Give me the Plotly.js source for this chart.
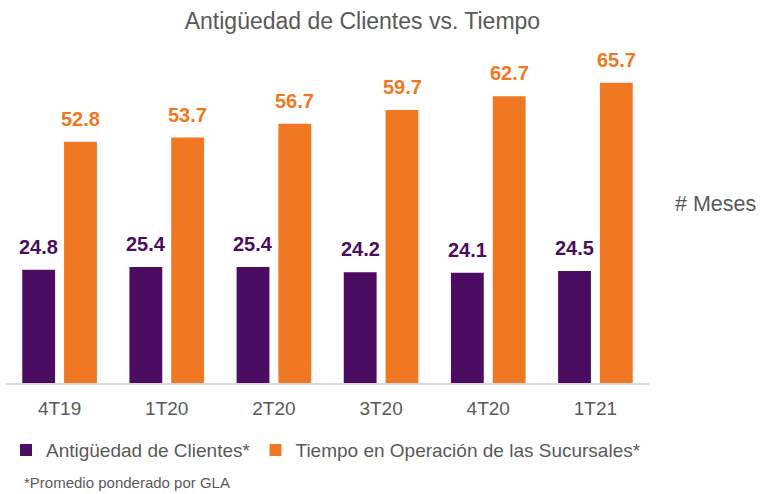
<!DOCTYPE html>
<html>
<head>
<meta charset="utf-8">
<script src="https://cdn.plot.ly/plotly-3.0.1.min.js"></script>
<style>html,body{margin:0;padding:0;background:#fff;}#chart{width:763px;height:494px;}</style>
</head>
<body>
<div id="chart"></div>
<script>
var categories = ["4T19", "1T20", "2T20", "3T20", "4T20", "1T21"];
var antiguedad = [24.8, 25.4, 25.4, 24.2, 24.1, 24.5];
var tiempoOperacion = [52.8, 53.7, 56.7, 59.7, 62.7, 65.7];
var seriesNames = ["Antigüedad de Clientes*", "Tiempo en Operación de las Sucursales*"];

var purple = "#4B0C61";
var orange = "#F07822";
var gray = "#595959";
var fontFam = "'Liberation Sans', Arial, sans-serif";

var traces = [
  {type: "bar", x: categories, y: antiguedad, name: seriesNames[0], marker: {color: purple}, hoverinfo: "none"},
  {type: "bar", x: categories, y: tiempoOperacion, name: seriesNames[1], marker: {color: orange}, hoverinfo: "none"}
];

var annotations = [];
categories.forEach(function (c, i) {
  annotations.push({x: c, y: antiguedad[i], xref: "x", yref: "y", text: antiguedad[i].toFixed(1), showarrow: false,
    xshift: -21, yshift: 23, yanchor: "middle", font: {family: fontFam, size: 20, color: purple, weight: "bold"}});
  annotations.push({x: c, y: tiempoOperacion[i], xref: "x", yref: "y", text: tiempoOperacion[i].toFixed(1), showarrow: false,
    xshift: 21, yshift: 23, yanchor: "middle", font: {family: fontFam, size: 20, color: orange, weight: "bold"}});
});
annotations.push({xref: "paper", yref: "paper", x: 1.037, y: 0.56, xanchor: "left", yanchor: "middle",
  text: "# Meses", showarrow: false, font: {family: fontFam, size: 21.5, color: gray}});
annotations.push({xref: "paper", yref: "paper", x: 0.025, y: -0.31, xanchor: "left", yanchor: "middle",
  text: "*Promedio ponderado por GLA", showarrow: false, font: {family: fontFam, size: 15, color: gray}});

var layout = {
  width: 763, height: 494,
  margin: {l: 6, r: 114, t: 63, b: 111},
  paper_bgcolor: "#fff", plot_bgcolor: "#fff",
  title: {text: "Antigüedad de Clientes vs. Tiempo", x: 0.475, xref: "container", xanchor: "center",
    y: 0.958, yref: "container", yanchor: "middle", font: {family: fontFam, size: 23, color: gray}},
  barmode: "group", bargap: 0.22, bargroupgap: 0.214,
  xaxis: {type: "category", showline: true, linecolor: "#D9D9D9", linewidth: 2, ticks: "", showgrid: false,
    tickfont: {family: fontFam, size: 19, color: gray}, ticklabelstandoff: 7},
  yaxis: {range: [0, 70], visible: false, showgrid: false, zeroline: false},
  showlegend: true,
  legend: {orientation: "h", x: 0.0, xanchor: "left", y: -0.21, yanchor: "middle", itemwidth: 30,
    font: {family: fontFam, size: 19, color: gray}, traceorder: "normal", tracegroupgap: 0},
  annotations: annotations
};

Plotly.newPlot("chart", traces, layout, {displayModeBar: false, staticPlot: true});
</script>
</body>
</html>
